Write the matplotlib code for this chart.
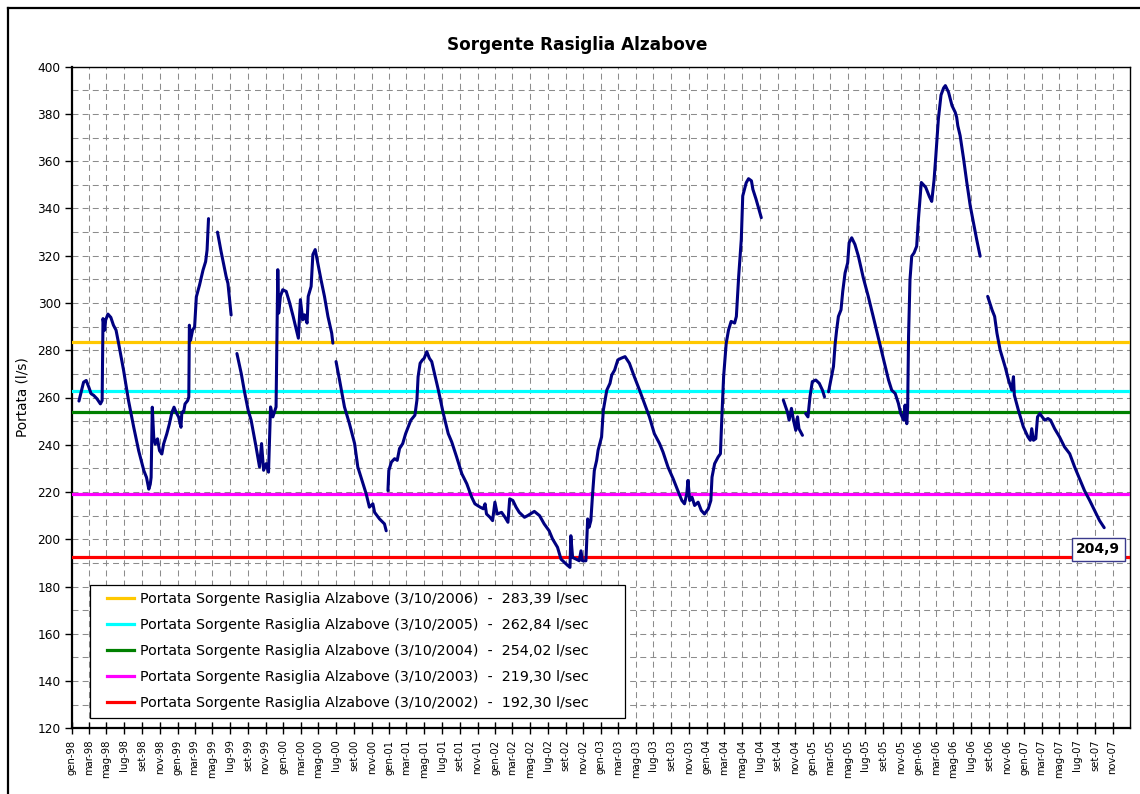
import matplotlib
matplotlib.use("Agg")
import matplotlib.pyplot as plt
import matplotlib.dates as mdates
from matplotlib.lines import Line2D
from matplotlib.patches import Rectangle
import numpy as np
import pandas as pd

plt.rcParams["font.family"] = ["DejaVu Sans"]
plt.rcParams["lines.scale_dashes"] = False

# ---------------- data ----------------
title = "Sorgente Rasiglia Alzabove"
y_label = "Portata (l/s)"

# daily discharge (l/s); None = missing data (break in the line)
dates = [
    "1998-01-26", "1998-02-11", "1998-02-20", "1998-03-01", "1998-03-09", "1998-03-18", "1998-03-29",
    "1998-04-10", "1998-04-16", "1998-04-19", "1998-04-25", "1998-04-28", "1998-05-06", "1998-05-16",
    "1998-05-25", "1998-06-03", "1998-06-12", "1998-06-29", "1998-07-16", "1998-08-03", "1998-08-20",
    "1998-09-07", "1998-09-16", "1998-09-24", "1998-09-29", "1998-10-02", "1998-10-06", "1998-10-11",
    "1998-10-16", "1998-10-24", "1998-10-31", "1998-11-08", "1998-11-14", "1998-11-25", "1998-12-04",
    "1998-12-13", "1998-12-20", "1998-12-27", "1999-01-05", "1999-01-13", "1999-01-16", "1999-01-22",
    "1999-01-27", "1999-02-05", "1999-02-09", "1999-02-11", "1999-02-15", "1999-02-22", "1999-03-01",
    "1999-03-07", "1999-03-18", "1999-03-30", "1999-04-08", "1999-04-13", "1999-04-18", "1999-04-18",
    "1999-05-19", "1999-05-31", "1999-06-18", "1999-06-24", "1999-07-05", "1999-07-05",
    "1999-07-25", "1999-08-09", "1999-08-20", "1999-09-02", "1999-09-12", "1999-09-29", "1999-10-11",
    "1999-10-18", "1999-10-25", "1999-11-03", "1999-11-11", "1999-11-18", "1999-11-26", "1999-12-07",
    "1999-12-13", "1999-12-16", "1999-12-22", "1999-12-30", "2000-01-11", "2000-01-23", "2000-02-04",
    "2000-02-15", "2000-02-22", "2000-02-29", "2000-03-08", "2000-03-14", "2000-03-23", "2000-03-27",
    "2000-04-06", "2000-04-12", "2000-04-20", "2000-04-29", "2000-05-10", "2000-05-22", "2000-06-03",
    "2000-06-16", "2000-06-20", "2000-06-20",
    "2000-07-01", "2000-07-13", "2000-07-30", "2000-08-16", "2000-09-03", "2000-09-14", "2000-10-02",
    "2000-10-13", "2000-10-24", "2000-11-05", "2000-11-11", "2000-11-28", "2000-12-15", "2000-12-21",
    "2000-12-21",
    "2000-12-27", "2000-12-30", "2001-01-08", "2001-01-19", "2001-01-28", "2001-02-05", "2001-02-16",
    "2001-02-26", "2001-03-07", "2001-03-16", "2001-03-30", "2001-04-06", "2001-04-10", "2001-04-17",
    "2001-04-25", "2001-05-01", "2001-05-10", "2001-05-19", "2001-05-27", "2001-06-08", "2001-06-19",
    "2001-07-06", "2001-07-23", "2001-08-04", "2001-08-21", "2001-09-08", "2001-09-25", "2001-10-12",
    "2001-10-23", "2001-11-10", "2001-11-21", "2001-11-27", "2001-12-02", "2001-12-14", "2001-12-23",
    "2001-12-31", "2002-01-08", "2002-01-23", "2002-02-04", "2002-02-14", "2002-02-20", "2002-03-03",
    "2002-03-14", "2002-03-25", "2002-04-12", "2002-04-23", "2002-05-16", "2002-06-03", "2002-06-19",
    "2002-07-06", "2002-07-18", "2002-08-04", "2002-08-16", "2002-09-03", "2002-09-16", "2002-09-19",
    "2002-09-25", "2002-10-07", "2002-10-18", "2002-10-24", "2002-10-29", "2002-11-10", "2002-11-16",
    "2002-11-21", "2002-11-27", "2002-12-03", "2002-12-09", "2002-12-17", "2002-12-22", "2003-01-03",
    "2003-01-09", "2003-01-21", "2003-02-01", "2003-02-07", "2003-02-17", "2003-02-28", "2003-03-11",
    "2003-03-25", "2003-04-09", "2003-04-26", "2003-05-14", "2003-05-31", "2003-06-17", "2003-07-04",
    "2003-07-22", "2003-08-03", "2003-08-20", "2003-09-07", "2003-09-23", "2003-10-07", "2003-10-16",
    "2003-10-24", "2003-10-28", "2003-11-03", "2003-11-11", "2003-11-20", "2003-12-02", "2003-12-13",
    "2003-12-24", "2004-01-06", "2004-01-15", "2004-01-19", "2004-01-28", "2004-02-09", "2004-02-17",
    "2004-02-22", "2004-02-28", "2004-03-08", "2004-03-16", "2004-03-25", "2004-04-06", "2004-04-12",
    "2004-04-20", "2004-04-29", "2004-05-04", "2004-05-16", "2004-05-24", "2004-06-03", "2004-06-08",
    "2004-06-19", "2004-07-07", "2004-07-07",
    "2004-09-21", "2004-10-05", "2004-10-11", "2004-10-19", "2004-10-26", "2004-11-03", "2004-11-09",
    "2004-11-14", "2004-11-26", "2004-11-26",
    "2004-12-07", "2004-12-15", "2004-12-22", "2004-12-30", "2005-01-11", "2005-01-23", "2005-02-03",
    "2005-02-10", "2005-02-10",
    "2005-02-24", "2005-03-04", "2005-03-13", "2005-03-19", "2005-03-24", "2005-03-30", "2005-04-08",
    "2005-04-14", "2005-04-22", "2005-05-01", "2005-05-06", "2005-05-15", "2005-05-26", "2005-06-07",
    "2005-06-24", "2005-07-11", "2005-07-28", "2005-08-15", "2005-09-02", "2005-09-19", "2005-09-30",
    "2005-10-12", "2005-10-23", "2005-10-31", "2005-11-10", "2005-11-15", "2005-11-21", "2005-11-24",
    "2005-11-27", "2005-12-02", "2005-12-08", "2005-12-16", "2005-12-25", "2005-12-31", "2006-01-10",
    "2006-01-25", "2006-02-07", "2006-02-15", "2006-02-23", "2006-03-01", "2006-03-10", "2006-03-19",
    "2006-03-28", "2006-04-03", "2006-04-14", "2006-04-26", "2006-05-07", "2006-05-12", "2006-05-16",
    "2006-05-24", "2006-06-05", "2006-06-16", "2006-06-28", "2006-07-09", "2006-07-20", "2006-08-01",
    "2006-08-01",
    "2006-08-27", "2006-09-11", "2006-09-20", "2006-09-28", "2006-10-09", "2006-10-26", "2006-11-07",
    "2006-11-18", "2006-11-24", "2006-11-27", "2006-12-11", "2006-12-28", "2007-01-13", "2007-01-21",
    "2007-01-26", "2007-02-01", "2007-02-09", "2007-02-15", "2007-02-23", "2007-03-03", "2007-03-12",
    "2007-03-23", "2007-04-01", "2007-04-15", "2007-05-02", "2007-05-19", "2007-06-06", "2007-06-23",
    "2007-07-10", "2007-07-27", "2007-08-14", "2007-08-31", "2007-09-17", "2007-10-03",
]
portata = [
    258.5, 266.5, 267.2, 264.4, 261.6, 260.9, 259.5,
    257.3, 258.7, 293.4, 288.5, 292.7, 295.3, 293.9,
    290.6, 288.5, 282.8, 271.5, 258.7, 247.4, 237.5,
    229.0, 226.2, 221.2, 223.3, 226.2, 255.9, 243.2,
    240.3, 242.5, 237.5, 236.1, 240.3, 244.6, 248.8,
    253.8, 255.9, 253.8, 251.7, 247.4, 253.8, 253.8,
    257.3, 258.7, 260.2, 290.6, 284.2, 288.5, 289.9,
    302.6, 307.6, 313.9, 317.5, 322.4, 335.7, None,
    330.0, 322.0, 311.1, 308.3, 294.9, None,
    278.6, 270.1, 262.5, 254.5, 250.4, 239.1, 230.6,
    240.5, 229.2, 232.0, 228.4, 256.0, 251.8, 256.0,
    314.1, 295.7, 302.8, 305.6, 304.9, 300.0, 294.3,
    288.6, 285.1, 301.4, 292.9, 295.0, 291.5, 302.8,
    307.0, 320.5, 322.6, 316.9, 309.9, 302.8, 294.3,
    287.2, 283.0, None,
    275.2, 267.4, 256.0, 249.0, 240.5, 230.6, 223.5,
    219.2, 213.6, 215.0, 211.4, 208.6, 206.5, 203.6,
    None,
    220.6, 229.1, 232.7, 234.1, 233.4, 238.4, 240.5,
    244.7, 247.6, 250.4, 252.5, 258.9, 268.8, 274.5,
    275.9, 276.6, 279.4, 276.6, 275.2, 268.8, 263.1,
    253.2, 244.7, 241.2, 234.8, 227.7, 223.5, 217.8,
    215.0, 213.6, 212.9, 215.0, 210.7, 209.3, 207.9,
    215.7, 210.7, 211.4, 209.3, 207.2, 217.1, 216.4,
    213.6, 211.4, 209.3, 210.0, 211.8, 210.0, 206.5,
    203.6, 200.1, 196.6, 191.6, 189.5, 188.1, 201.5,
    192.3, 191.6, 190.9, 195.1, 190.9, 190.9, 208.6,
    205.1, 207.9, 219.2, 229.1, 233.4, 237.7, 243.3,
    254.6, 263.1, 266.0, 269.5, 271.6, 275.9, 276.6,
    277.3, 274.5, 268.8, 263.1, 257.5, 251.8, 244.7,
    240.5, 236.9, 230.6, 225.6, 220.6, 216.4, 215.0,
    219.2, 224.9, 216.4, 217.8, 214.3, 215.7, 212.2,
    210.7, 212.9, 216.4, 226.3, 232.0, 234.8, 236.2,
    251.8, 268.8, 283.0, 288.6, 292.2, 291.5, 294.3,
    311.3, 326.9, 345.3, 350.9, 352.6, 351.7, 348.1,
    343.9, 336.1, None,
    258.9, 253.9, 250.4, 255.4, 250.4, 246.1, 251.8,
    246.8, 244.0, None,
    253.2, 251.8, 260.3, 266.7, 267.4, 266.0, 263.1,
    260.3, None,
    262.4, 267.4, 273.1, 283.0, 288.6, 294.3, 297.1,
    304.9, 312.7, 317.0, 325.5, 327.6, 324.8, 319.8,
    310.6, 302.8, 294.3, 285.1, 275.9, 267.4, 263.1,
    261.7, 257.5, 253.2, 250.4, 256.8, 248.9, 256.0,
    285.8, 309.9, 319.8, 321.2, 324.0, 335.4, 351.0,
    349.0, 345.0, 343.0, 352.0, 362.0, 378.0, 388.0,
    391.0, 392.0, 389.2, 383.5, 380.7, 378.6, 375.0,
    370.8, 360.9, 351.0, 341.0, 334.0, 326.9, 319.8,
    None,
    302.8, 297.1, 294.3, 287.2, 280.1, 273.1, 267.4,
    263.1, 268.8, 261.0, 254.6, 247.6, 243.3, 241.9,
    246.8, 241.9, 242.6, 251.8, 253.2, 251.8, 250.4,
    251.1, 250.4, 246.8, 243.3, 239.1, 236.2, 230.6,
    225.6, 220.6, 216.4, 212.2, 207.9, 204.9,
]

# reference discharges measured on 3 October of each year
ref_years = ["2006", "2005", "2004", "2003", "2002"]
ref_values = [283.39, 262.84, 254.02, 219.30, 192.30]
ref_labels = ["283,39", "262,84", "254,02", "219,30", "192,30"]
ref_colors = ["#FFC800", "#00FFFF", "#008000", "#FF00FF", "#FF0000"]

last_label = "204,9"
month_abbr = ["gen", "feb", "mar", "apr", "mag", "giu",
              "lug", "ago", "set", "ott", "nov", "dic"]

# ---------------- figure ----------------
W, H = 1140, 794
fig = plt.figure(figsize=(W / 100, H / 100), dpi=100)
fig.patch.set_facecolor("white")

# outer chart frame
fig.add_artist(Line2D([7.5 / W, 7.5 / W], [1 - 7.5 / H, 0], color="black", lw=1.6,
                      transform=fig.transFigure))
fig.add_artist(Line2D([7.5 / W, 1.0], [1 - 7.5 / H, 1 - 7.5 / H], color="black", lw=1.6,
                      transform=fig.transFigure))

L, R, T, B = 71.7, 1130, 66.7, 728.3
ax = fig.add_axes([L / W, 1 - B / H, (R - L) / W, (B - T) / H])

x = pd.to_datetime(pd.Series(dates))
y = np.array([np.nan if v is None else v for v in portata], dtype=float)

ax.set_ylim(120, 400)
ax.set_xlim(mdates.date2num(pd.Timestamp("1998-01-01")),
            mdates.date2num(pd.Timestamp("2007-12-31")))

# reference lines
for yr, val, lab, col in zip(ref_years, ref_values, ref_labels, ref_colors):
    ax.axhline(val, color=col, lw=2.3, zorder=3,
               label=f"Portata Sorgente Rasiglia Alzabove (3/10/{yr})  -  {lab} l/sec")

ax.plot(x, y, color="#000080", lw=2.2, zorder=4, solid_joinstyle="round",
        solid_capstyle="round")

# ticks
ticks = pd.date_range("1998-01-01", "2007-11-01", freq="2MS")
ax.set_xticks(mdates.date2num(ticks))
ax.set_xticklabels([f"{month_abbr[t.month - 1]}-{t.year % 100:02d}" for t in ticks],
                   rotation=90, fontsize=7.2)
ax.set_yticks(np.arange(120, 401, 20))
ax.set_yticks(np.arange(130, 400, 20), minor=True)
ax.tick_params(axis="y", which="major", labelsize=8.7, length=5, width=1, direction="out", pad=3)
ax.tick_params(axis="y", which="minor", length=0)
ax.tick_params(axis="x", which="major", length=8, width=1, direction="inout", pad=4)

grid_kw = dict(color="#8c8c8c", lw=0.75, linestyle=(0, (4.3, 3.0)))
ax.grid(True, axis="x", which="major", **grid_kw)
ax.grid(True, axis="y", which="both", **grid_kw)
ax.set_axisbelow(True)

for side in ["left", "bottom"]:
    ax.spines[side].set_linewidth(1.6)
    ax.spines[side].set_color("black")
for side in ["top", "right"]:
    ax.spines[side].set_linewidth(1.0)
    ax.spines[side].set_color("black")

ax.set_ylabel(y_label, fontsize=9.8, labelpad=6)
fig.text(577 / W, 1 - 45 / H, title, ha="center", va="center", fontsize=12.2,
         fontweight="bold")

# data label for last value
last_idx = len(portata) - 1
ax.annotate(last_label, xy=(mdates.date2num(x.iloc[last_idx]), y[last_idx]),
            xytext=(-4.3, -15.5), textcoords="offset points", ha="center", va="center",
            fontsize=10, fontweight="bold", zorder=6,
            bbox=dict(boxstyle="square,pad=0.32", fc="white", ec="#3a3a8c", lw=1.0))

# legend (frame drawn separately)
leg = ax.legend(loc="upper left", bbox_to_anchor=((107 - L) / (R - L), (B - 592) / (B - T)),
                frameon=False, fontsize=10.3, handlelength=1.9, handletextpad=0.4,
                labelspacing=0.84, borderpad=0, borderaxespad=0)
leg.set_zorder(7)
ax.add_patch(Rectangle(((90 - L) / (R - L), (B - 718) / (B - T)),
                       (625 - 90) / (R - L), (718 - 585) / (B - T),
                       transform=ax.transAxes, fc="white", ec="black", lw=0.9, zorder=6))

fig.savefig("out.png", dpi=100)
